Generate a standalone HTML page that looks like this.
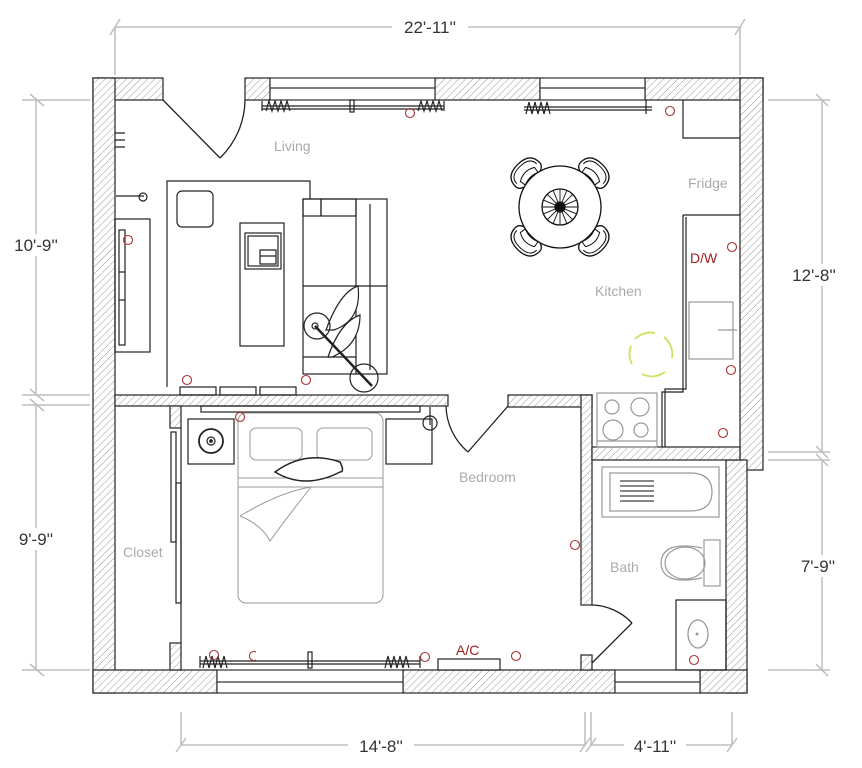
<!DOCTYPE html>
<html><head><meta charset="utf-8"><style>
html,body{margin:0;padding:0;background:#fff;}
svg{display:block;}
text{font-family:"Liberation Sans",sans-serif;}
</style></head><body>
<svg width="862" height="768" viewBox="0 0 862 768" xmlns="http://www.w3.org/2000/svg">
<defs>
<pattern id="h" width="5" height="5" patternUnits="userSpaceOnUse" patternTransform="rotate(45)">
<rect width="5" height="5" fill="#fff"/><line x1="0" y1="0" x2="0" y2="5" stroke="#9a9a9a" stroke-width="1"/>
</pattern>
<g id="chair">
<path d="M-17,-2 Q-17,-16 0,-16 Q17,-16 17,-2 Q17,6 0,6 Q-17,6 -17,-2 Z" fill="#fff" stroke="#111" stroke-width="1.3"/>
<path d="M-14,-3 Q-14,-13 0,-13 Q14,-13 14,-3" fill="none" stroke="#111" stroke-width="1"/>
<path d="M-10,-2 Q0,-8 10,-2 L9,4 Q0,0 -9,4 Z" fill="#fff" stroke="#111" stroke-width="1"/>
</g>
</defs>

<!-- dimension lines -->
<g stroke="#bdbdbd" stroke-width="1.5" fill="none">
<line x1="115" y1="27" x2="740" y2="27"/>
<line x1="115" y1="27" x2="115" y2="75"/><line x1="740" y1="27" x2="740" y2="75"/>
<line x1="110" y1="35" x2="120" y2="19"/><line x1="735" y1="35" x2="745" y2="19"/>
<line x1="36" y1="100" x2="36" y2="395"/><line x1="36" y1="405" x2="36" y2="670"/>
<line x1="22" y1="100" x2="90" y2="100"/><line x1="22" y1="395" x2="90" y2="395"/><line x1="22" y1="405" x2="90" y2="405"/><line x1="22" y1="670" x2="90" y2="670"/>
<line x1="30" y1="94" x2="44" y2="106"/><line x1="30" y1="389" x2="44" y2="401"/><line x1="30" y1="399" x2="44" y2="411"/><line x1="30" y1="664" x2="44" y2="676"/>
<line x1="822" y1="100" x2="822" y2="452"/><line x1="822" y1="460" x2="822" y2="670"/>
<line x1="768" y1="100" x2="830" y2="100"/><line x1="768" y1="452" x2="830" y2="452"/><line x1="768" y1="460" x2="830" y2="460"/><line x1="768" y1="670" x2="830" y2="670"/>
<line x1="816" y1="94" x2="828" y2="106"/><line x1="816" y1="446" x2="828" y2="458"/><line x1="816" y1="454" x2="828" y2="466"/><line x1="816" y1="664" x2="828" y2="676"/>
<line x1="181" y1="745" x2="585" y2="745"/><line x1="591" y1="745" x2="732" y2="745"/>
<line x1="181" y1="712" x2="181" y2="745"/><line x1="585" y1="712" x2="585" y2="745"/><line x1="591" y1="712" x2="591" y2="745"/><line x1="732" y1="712" x2="732" y2="745"/>
<line x1="176" y1="752" x2="186" y2="738"/><line x1="580" y1="752" x2="590" y2="738"/><line x1="586" y1="752" x2="596" y2="738"/><line x1="727" y1="752" x2="737" y2="738"/>
</g>
<g fill="#333" font-size="17">
<rect x="392" y="16" width="76" height="22" fill="#fff"/>
<text x="430" y="33" text-anchor="middle">22'-11''</text>
<rect x="4" y="234" width="64" height="22" fill="#fff"/>
<text x="36" y="251" text-anchor="middle">10'-9''</text>
<rect x="8" y="528" width="56" height="22" fill="#fff"/>
<text x="36" y="545" text-anchor="middle">9'-9''</text>
<rect x="782" y="264" width="64" height="22" fill="#fff"/>
<text x="814" y="281" text-anchor="middle">12'-8''</text>
<rect x="790" y="555" width="56" height="22" fill="#fff"/>
<text x="818" y="572" text-anchor="middle">7'-9''</text>
<rect x="348" y="735" width="66" height="22" fill="#fff"/>
<text x="381" y="752" text-anchor="middle">14'-8''</text>
<rect x="624" y="735" width="62" height="22" fill="#fff"/>
<text x="655" y="752" text-anchor="middle">4'-11''</text>
</g>

<!-- walls -->
<g fill="url(#h)" stroke="#333" stroke-width="1.3">
<rect x="93" y="78" width="70" height="22"/>
<rect x="93" y="78" width="22" height="615"/>
<rect x="245" y="78" width="25" height="22"/>
<rect x="435" y="78" width="105" height="22"/>
<rect x="645" y="78" width="118" height="22"/>
<rect x="740" y="78" width="23" height="392"/>
<rect x="726" y="460" width="21" height="233"/>
<rect x="93" y="670" width="124" height="23"/>
<rect x="170" y="643" width="11" height="27"/>
<rect x="403" y="670" width="212" height="23"/>
<rect x="700" y="670" width="47" height="23"/>
<rect x="581" y="655" width="11" height="15"/>
<rect x="115" y="395" width="333" height="11"/>
<rect x="170" y="406" width="11" height="22"/>
<rect x="508" y="395" width="84" height="12"/>
<rect x="581" y="395" width="11" height="210"/>
<rect x="592" y="447" width="148" height="13"/>
</g>
<!-- windows -->
<g fill="#fff" stroke="#333" stroke-width="1.2">
<rect x="270" y="78" width="165" height="22"/><line x1="270" y1="88" x2="435" y2="88"/>
<rect x="540" y="78" width="105" height="22"/><line x1="540" y1="88" x2="645" y2="88"/>
<rect x="217" y="670" width="186" height="23"/><line x1="217" y1="682" x2="403" y2="682"/>
<rect x="615" y="670" width="85" height="23"/><line x1="615" y1="682" x2="700" y2="682"/>
</g>
<!-- curtain rods -->
<g stroke="#222" stroke-width="1.2" fill="none">
<line x1="262" y1="106" x2="444" y2="106"/><line x1="262" y1="109" x2="444" y2="109"/>
<path d="M262,101 v10 M266,111 l3,-10 3,10 3,-10 3,10 3,-10 3,10 3,-10 3,10"/>
<path d="M418,111 l3,-10 3,10 3,-10 3,10 3,-10 3,10 3,-10 3,10 M444,101 v10"/>
<rect x="350" y="100" width="4" height="12"/>
<line x1="524" y1="107" x2="652" y2="107"/><line x1="524" y1="110" x2="652" y2="110"/>
<path d="M526,114 l3,-12 3,12 3,-12 3,12 3,-12 3,12 3,-12 3,12 M646,100 v14"/>
<line x1="200" y1="661" x2="420" y2="661"/><line x1="200" y1="664" x2="420" y2="664"/>
<path d="M200,656 v12 M203,668 l3,-12 3,12 3,-12 3,12 3,-12 3,12 3,-12 3,12"/>
<path d="M385,668 l3,-12 3,12 3,-12 3,12 3,-12 3,12 3,-12 3,12 M420,656 v12"/>
<rect x="308" y="652" width="4" height="16"/>
</g>
<!-- doors -->
<g stroke="#222" stroke-width="1.3" fill="none">
<line x1="163" y1="100" x2="220" y2="158"/>
<path d="M220,158 A82,82 0 0 0 245,100"/>
<line x1="508" y1="406" x2="468" y2="452"/>
<path d="M468,452 A62,62 0 0 1 446,406"/>
<line x1="592" y1="663" x2="632" y2="623"/>
<path d="M632,623 A57,57 0 0 0 592,605"/>
</g>

<!-- living -->
<g stroke="#222" stroke-width="1.2" fill="none">
<path d="M115,133 h10 M115,140 h10 M115,147 h10"/>
<path d="M116,196 h28"/><circle cx="143" cy="197" r="4"/>
<rect x="115" y="219" width="35" height="133"/>
<rect x="119" y="230" width="6" height="115"/><line x1="119" y1="272" x2="125" y2="272"/><line x1="119" y1="300" x2="125" y2="300"/>
<path d="M167,387 V181 H310 V199"/>
<rect x="177" y="191" width="36" height="36" rx="5"/>
<rect x="240" y="223" width="44" height="123"/>
<rect x="245" y="233" width="36" height="36"/><rect x="248" y="236" width="30" height="30"/>
<path d="M260,250 h16 v14 h-16 z M260,256 h16"/>
<rect x="303" y="199" width="84" height="175"/>
<rect x="303" y="199" width="18" height="17"/><rect x="321" y="199" width="35" height="17"/>
<line x1="356" y1="199" x2="356" y2="374"/><line x1="370" y1="204" x2="370" y2="370"/>
<line x1="303" y1="286" x2="387" y2="286"/>
<line x1="303" y1="357" x2="356" y2="357"/>
<path d="M326,330 Q340,292 358,286 Q362,320 334,330 Z" fill="#fff"/>
<path d="M328,357 Q340,322 360,315 Q360,345 332,357 Z" fill="#fff"/>
<circle cx="317" cy="326" r="13" fill="none"/>
<circle cx="315" cy="326" r="3"/>
<line x1="315" y1="326" x2="372" y2="386" stroke-width="2.5"/>
<circle cx="364" cy="378" r="14"/>
<rect x="180" y="387" width="36" height="8"/><rect x="220" y="387" width="36" height="8"/><rect x="260" y="387" width="36" height="8"/>
</g>
<!-- bedroom -->
<g stroke="#222" stroke-width="1.2" fill="none">
<line x1="181" y1="428" x2="181" y2="643"/>
<rect x="171" y="432" width="5" height="110"/><rect x="176" y="483" width="5" height="120"/>
<rect x="201" y="406" width="219" height="6"/>
<rect x="188" y="419" width="46" height="45"/>
<circle cx="211" cy="441" r="12" stroke-width="1.8"/><circle cx="211" cy="441" r="4"/><circle cx="211" cy="441" r="1.3" fill="#222"/>
<rect x="386" y="419" width="46" height="45"/>
<circle cx="430" cy="423" r="7"/><line x1="430" y1="407" x2="430" y2="425"/>
</g>
<g stroke="#999" stroke-width="1" fill="none">
<rect x="238" y="413" width="145" height="190" rx="8"/>
<rect x="250" y="428" width="52" height="32" rx="6"/><rect x="317" y="428" width="55" height="32" rx="6"/>
<line x1="238" y1="478" x2="383" y2="478"/><line x1="238" y1="487" x2="383" y2="487"/>
<path d="M240,516 Q280,492 311,487 Q285,520 270,541 Q262,525 240,516"/>
</g>
<path d="M275,472 Q305,450 340,462 Q345,472 340,472 Q305,490 275,472 Z" fill="#fff" stroke="#222" stroke-width="1.5"/>
<!-- kitchen -->
<g stroke="#222" stroke-width="1.2" fill="none">
<path d="M683,100 V138 H740"/>
<path d="M683,215 H740 M683,215 V392 H662 V447 M686,217 V389 H665 V447"/>
</g>
<g stroke="#999" stroke-width="1.2" fill="none">
<rect x="597" y="393" width="60" height="54"/>
<circle cx="612" cy="407" r="7"/><circle cx="640" cy="407" r="9"/><circle cx="613" cy="430" r="10"/><circle cx="641" cy="430" r="7"/>
<line x1="597" y1="441" x2="657" y2="441"/>
<rect x="689" y="302" width="44" height="57"/>
<line x1="718" y1="330" x2="737" y2="330"/>
</g>
<path d="M635,339 A22,22 0 0 1 655,333 M664,337 A22,22 0 0 1 672,358 M665,372 A22,22 0 0 1 642,374 M632,364 A22,22 0 0 1 631,346" stroke="#cde060" stroke-width="1.8" fill="none"/>
<!-- table -->
<g stroke="#111" stroke-width="1.3">
<g transform="translate(560,207)">
<g transform="rotate(-45) translate(0,-44)"><use href="#chair"/></g>
<g transform="rotate(45) translate(0,-44)"><use href="#chair"/></g>
<g transform="rotate(135) translate(0,-44)"><use href="#chair"/></g>
<g transform="rotate(-135) translate(0,-44)"><use href="#chair"/></g>
<circle r="41" fill="#fff"/>
<circle r="18" fill="#fff"/>
<g stroke-width="0.9">
<line x1="-18" y1="0" x2="18" y2="0"/><line x1="0" y1="-18" x2="0" y2="18"/>
<line x1="-12.7" y1="-12.7" x2="12.7" y2="12.7"/><line x1="-12.7" y1="12.7" x2="12.7" y2="-12.7"/>
<line x1="-16.6" y1="-6.9" x2="16.6" y2="6.9"/><line x1="-16.6" y1="6.9" x2="16.6" y2="-6.9"/>
<line x1="-6.9" y1="-16.6" x2="6.9" y2="16.6"/><line x1="6.9" y1="-16.6" x2="-6.9" y2="16.6"/>
</g>
<circle r="5" fill="#111"/>
</g>
</g>
<!-- bath -->
<g stroke="#999" stroke-width="1.2" fill="none">
<rect x="602" y="467" width="117" height="50"/>
<path d="M610,473 H690 Q712,473 712,492 Q712,511 690,511 H610 Z"/>
<g fill="#888" stroke="none">
<rect x="620" y="480" width="34" height="2"/><rect x="620" y="485" width="34" height="2"/><rect x="620" y="490" width="34" height="2"/><rect x="620" y="495" width="34" height="2"/><rect x="620" y="500" width="34" height="2"/>
</g>
<path d="M702,548 Q662,540 661,563 Q662,586 702,578"/>
<ellipse cx="685" cy="563" rx="20" ry="16"/>
<rect x="704" y="540" width="16" height="46"/>
</g>
<g stroke="#222" stroke-width="1.2" fill="none">
<rect x="676" y="600" width="50" height="70"/>
</g>
<ellipse cx="698" cy="634" rx="10" ry="14" stroke="#999" stroke-width="1.3" fill="none"/>
<circle cx="697" cy="634" r="1.5" fill="#999"/>
<!-- AC -->
<rect x="438" y="659" width="62" height="11" fill="#fff" stroke="#222" stroke-width="1.2"/>
<!-- outlets -->
<g stroke="#a33" stroke-width="1.1" fill="none">
<circle cx="410" cy="113" r="4.5"/><circle cx="670" cy="111" r="4.5"/>
<circle cx="128" cy="240" r="4.5"/><circle cx="187" cy="380" r="4.5"/><circle cx="306" cy="380" r="4.5"/>
<circle cx="732" cy="247" r="4.5"/><circle cx="731" cy="370" r="4.5"/><circle cx="723" cy="433" r="4.5"/>
<circle cx="240" cy="417" r="4.5"/><circle cx="575" cy="545" r="4.5"/>
<circle cx="214" cy="655" r="4.5"/><path d="M256,652 A4.5,4.5 0 1 0 256,660"/>
<circle cx="425" cy="657" r="4.5"/><circle cx="516" cy="656" r="4.5"/><circle cx="694" cy="660" r="4.5"/>
</g>
<!-- labels -->
<g fill="#aaa" font-size="14">
<text x="274" y="151">Living</text>
<text x="688" y="188">Fridge</text>
<text x="595" y="296">Kitchen</text>
<text x="459" y="482">Bedroom</text>
<text x="123" y="557">Closet</text>
<text x="610" y="572">Bath</text>
</g>
<g fill="#a02020" font-size="14">
<text x="690" y="263">D/W</text>
<text x="456" y="655">A/C</text>
</g>
</svg>
</body></html>
